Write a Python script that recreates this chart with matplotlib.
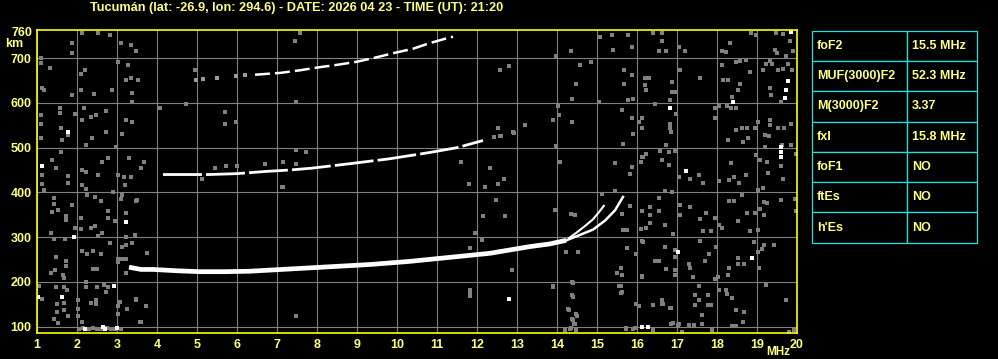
import matplotlib
matplotlib.use('Agg')
from matplotlib import pyplot as plt

title = "Tucumán (lat: -26.9, lon: 294.6) - DATE: 2026 04 23 - TIME (UT): 21:20"

# ordinary F2 trace (thick part)
o_freq = [3.3, 3.6, 3.9, 4.5, 5.07, 5.7, 6.32, 7.32, 8.32, 9.32, 10.32, 11.32, 12.32, 13.32, 13.82, 14.23]
o_height = [233, 228, 228, 225, 223, 223, 224, 229, 234, 239, 246, 255, 264, 279, 285, 293]
# cusp, two thin branches near foF2
o_tail_freq = [14.23, 14.57, 14.9, 15.2, 15.45, 15.65]
o_tail_height = [293, 305, 317, 337, 360, 390]
x_freq = [14.3, 14.5, 14.7, 14.9, 15.05, 15.17]
x_height = [298, 311, 325, 340, 356, 370]
# second hop
h2_freq = [4.15, 4.6, 5.3, 6.0, 6.73, 7.3, 7.85, 8.8, 9.8, 10.8, 11.5, 12.15]
h2_height = [440, 440, 440, 442, 447, 450, 454, 464, 475, 489, 500, 516]
# third hop
h3_freq = [6.45, 7.08, 7.58, 8.08, 8.5, 9.0, 9.45, 9.9, 10.4, 10.8, 11.15, 11.4]
h3_height = [663, 667, 673, 680, 685, 692, 701, 711, 721, 733, 742, 748]
h3_faint_freq = [4.98, 5.15, 5.5, 5.98, 6.2]
h3_faint_height = [652, 654, 655, 660, 662]

# scattered echoes (gray)
noise_f = [2.13, 2.53, 2.83, 3.09, 1.88, 1.88, 1.09, 1.32, 1.09, 2.19, 2.09, 3.34, 3.47, 3.28, 3.22, 3.34, 3.53, 3.38,
           1.13, 1.18, 1.88, 2.09, 2.43, 2.88, 3.02, 3.38, 1.58, 1.58, 1.09, 1.09, 1.95, 2.18, 2.13, 2.34, 2.48, 2.73,
           3.23, 3.38, 1.59, 1.78, 1.63, 1.09, 2.38, 2.73, 2.23, 3.13, 2.98, 1.59, 1.38, 1.48, 1.13, 2.63, 2.78, 2.13,
           2.23, 2.53, 1.78, 3.02, 3.18, 3.34, 3.30, 3.59, 3.68, 1.13, 1.78, 2.13, 2.23, 2.9, 1.18, 1.43, 1.43, 1.88,
           2.25, 2.45, 2.59, 3.13, 3.09, 3.48, 1.38, 1.53, 1.73, 1.73, 2.09, 2.78, 2.78, 2.94, 3.23, 1.34, 1.95, 2.09,
           2.34, 2.45, 2.53, 2.63, 3.23, 3.44, 1.43, 1.7, 2.82, 3.13, 3.23, 3.38, 1.48, 1.73, 1.73, 2.13, 2.26, 2.4,
           2.59, 3.02, 3.02, 3.13, 3.23, 1.45, 1.65, 1.68, 1.34, 2.4, 2.51, 3.23, 2.23, 1.05, 1.48, 1.68, 1.76, 2.23,
           2.51, 2.68, 2.78, 2.73, 1.13, 1.68, 1.51, 1.51, 1.68, 1.43, 1.53, 1.78, 2.03, 2.03, 2.03, 2.34, 2.48, 2.48,
           3.02, 3.02, 3.24, 3.47, 3.72, 3.59, 2.13, 2.05, 2.15, 2.3, 2.4, 2.5, 2.6, 2.75, 2.85, 2.95, 3.1, 3.48,
           3.73, 3.58, 3.03, 3.08, 3.2, 3.49, 3.74,
           7.58, 7.44, 4.94, 12.58, 12.8, 13.98, 14.36, 14.58, 14.86, 15.08, 15.38, 15.4, 15.78, 15.88, 15.68, 15.88,
           15.67, 14.48, 14.38, 15.05, 15.9, 15.77, 4.08, 4.73, 5.69, 5.69, 5.98, 7.48, 14.03, 14.05, 13.9, 14.38,
           15.63, 15.88, 16.05, 12.52, 12.43, 12.6, 12.93, 13.98, 15.9, 15.65, 7.48, 7.73, 6.69, 7.15, 7.48, 5.73,
           5.99, 5.44, 11.61, 12.33, 14.08, 15.44, 15.88, 15.83, 16.13, 16.1, 5.13, 7.13, 11.79, 12.19, 12.52, 12.67,
           15.13, 15.44, 12.48, 13.94, 12.15, 12.69, 14.35, 14.45, 15.63, 15.82, 16.13, 15.65, 15.75, 16.1, 11.94,
           12.13, 11.83, 14.23, 14.53, 15.75, 16.13, 15.98, 12.88, 15.59, 15.63, 15.5, 16.13, 13.9, 14.38, 15.6,
           15.63, 11.83, 11.83, 14.38, 15.98, 7.48, 14.28, 14.48, 14.38, 14.43, 14.32, 14.2, 14.48, 15.73, 15.9,
           13.89, 14.39, 14.39, 14.29, 14.5, 14.39, 14.45, 14.34, 15.56, 15.6, 15.72, 15.95, 16.04, 7.47, 11.83,
           11.83, 12.57, 12.9, 13.19, 7.14,
           16.4, 16.63, 16.63, 16.55, 16.73, 17.05, 17.19, 18.13, 18.23, 18.33, 18.86, 18.98, 19.48, 19.65, 19.44,
           19.5, 19.73, 19.9, 19.83, 16.19, 16.3, 16.19, 16.22, 16.88, 17.08, 17.58, 18.13, 18.48, 18.58, 18.73,
           18.83, 18.15, 18.28, 18.58, 18.53, 18.38, 19.15, 19.23, 19.32, 19.38, 19.52, 19.65, 19.77, 19.87, 19.32,
           19.35, 19.6, 16.83, 16.88, 16.98, 16.44, 16.98, 16.13, 16.13, 16.82, 16.82, 16.86, 16.73, 17.94, 17.94,
           18.05, 18.25, 18.35, 18.48, 18.48, 18.63, 18.75, 18.78, 18.65, 18.28, 18.94, 19.03, 19.2, 19.2, 19.3,
           19.33, 19.33, 19.53, 19.67, 19.86, 19.63, 19.86, 19.97, 16.15, 16.23, 16.58, 16.8, 16.94, 16.8, 16.62,
           17.05, 17.33, 17.55, 17.65, 18.05, 18.35, 18.43, 18.3, 18.55, 18.72, 18.98, 19.08, 19.25, 19.28, 19.61,
           19.65, 19.03, 19.15, 16.69, 16.88, 16.55, 16.33, 16.33, 16.55, 16.33, 16.22, 16.69, 16.9, 17.08, 17.08,
           17.32, 17.73, 17.58, 17.65, 17.86, 17.94, 18.05, 18.13, 18.3, 18.43, 18.52, 18.63, 18.75, 18.82, 18.94,
           19.07, 19.17, 19.25, 19.03, 19.17, 19.6, 19.94, 19.97, 16.15, 16.69, 16.94, 16.94, 16.44, 16.55, 16.73,
           16.94, 16.94, 16.13, 17.3, 17.33, 17.4, 17.58, 17.8, 17.69, 17.98, 17.94, 18.02, 18.3, 18.28, 18.53,
           18.53, 18.68, 18.92, 19.03, 19.13, 19.18, 19.43, 19.04, 19.23, 16.4, 16.63, 16.63, 16.83, 17.55, 17.44,
           17.44, 17.55, 17.78, 17.78, 17.86, 17.63, 18.05, 18.23, 18.24, 18.38, 18.48, 18.68, 19.73, 16.85, 17.03,
           17.3, 17.42, 17.63, 17.88, 18.38, 18.48, 18.65, 19.92, 19.8, 16.4, 17.13, 16.65, 16.85, 16.9, 17.04]
noise_h = [756, 756, 752, 734, 734, 711, 701, 679, 689, 673, 664, 730, 716, 684, 651, 655, 651, 622,
           634, 629, 618, 629, 619, 629, 691, 601, 588, 577, 572, 554, 575, 588, 562, 569, 572, 582,
           562, 557, 543, 528, 517, 522, 521, 534, 507, 530, 502, 490, 472, 455, 440, 469, 476, 450,
           445, 439, 437, 439, 435, 435, 476, 454, 469, 418, 420, 416, 407, 400, 405, 387, 375, 373,
           394, 390, 381, 394, 385, 381, 357, 360, 348, 338, 343, 358, 344, 336, 353, 309, 321, 318,
           321, 325, 303, 309, 301, 304, 297, 297, 286, 278, 282, 286, 256, 246, 236, 269, 263, 269,
           263, 245, 252, 251, 251, 226, 216, 209, 219, 228, 228, 219, 201, 191, 189, 189, 181, 189,
           189, 194, 189, 178, 163, 154, 151, 133, 137, 118, 109, 124, 159, 140, 125, 154, 159, 151,
           146, 129, 139, 159, 146, 110, 110, 96, 97, 95, 98, 95, 96, 97, 95, 96, 95, 162,
           147, 111, 147, 156, 417, 382, 265,
           757, 739, 674, 674, 683, 704, 716, 684, 691, 748, 752, 719, 752, 726, 674, 663,
           642, 642, 609, 602, 609, 607, 588, 597, 579, 552, 557, 602, 594, 572, 562, 557,
           585, 566, 557, 545, 523, 525, 532, 503, 530, 508, 495, 490, 463, 468, 463, 458,
           458, 454, 468, 454, 468, 465, 456, 441, 480, 468, 431, 413, 418, 413, 418, 431,
           396, 404, 382, 360, 347, 347, 351, 350, 351, 370, 359, 316, 316, 318, 310,
           293, 276, 266, 266, 276, 292, 262, 227, 231, 216, 221, 214, 190, 199, 190,
           177, 181, 170, 170, 150, 125, 140, 128, 118, 107, 96, 92, 92, 96, 96,
           188, 198, 167, 137, 124, 115, 105, 98, 191, 176, 98, 97, 146, 123, 179,
           168, 525, 535, 551, 413,
           756, 756, 739, 716, 716, 724, 716, 715, 713, 734, 756, 752, 756, 754, 719,
           711, 704, 715, 739, 655, 655, 639, 629, 646, 674, 655, 684, 691, 693, 696,
           670, 651, 651, 642, 629, 614, 674, 688, 693, 688, 674, 676, 688, 673, 633,
           618, 603, 607, 625, 624, 597, 575, 566, 545, 552, 543, 534, 507, 588, 567,
           594, 594, 588, 588, 540, 543, 543, 521, 512, 517, 543, 557, 528, 502, 526,
           562, 551, 545, 543, 552, 506, 506, 485, 480, 485, 493, 490, 493, 461, 472,
           435, 431, 440, 420, 425, 465, 435, 428, 420, 440, 484, 472, 469, 443, 460,
           431, 405, 410, 403, 401, 387, 368, 349, 358, 331, 321, 327, 308, 372, 349,
           368, 353, 340, 313, 313, 343, 328, 321, 381, 381, 336, 394, 353, 313, 353,
           364, 379, 376, 316, 349, 383, 385, 358, 290, 278, 271, 256, 246, 246, 228,
           226, 216, 211, 241, 232, 211, 291, 263, 246, 278, 206, 211, 232, 215, 254,
           241, 241, 290, 268, 273, 283, 282, 231, 194, 149, 159, 151, 142, 191, 170,
           149, 159, 170, 148, 149, 127, 181, 181, 174, 164, 137, 133, 159, 107, 103,
           103, 103, 107, 92, 102, 102, 111, 92, 88, 92, 88, 151, 142, 108, 105]

# brighter isolated echoes
bright_f = [1.13, 1.78, 3.23, 1.93, 2.93, 1.03, 1.63, 2.2, 2.7, 2.65, 3.0, 12.8, 16.28,
            19.86, 18.4, 16.83, 19.78, 19.73, 19.69, 17.23, 19.6, 19.6, 19.6, 17.03, 18.87, 16.12]
bright_h = [458, 536, 333, 300, 191, 166, 166, 96, 96, 100, 98, 162, 100,
            758, 603, 588, 648, 629, 612, 448, 502, 491, 480, 268, 254, 99]

param_names = ["foF2", "MUF(3000)F2", "M(3000)F2", "fxI", "foF1", "ftEs", "h'Es"]
param_values = ["15.5 MHz", "52.3 MHz", "3.37", "15.8 MHz", "NO", "NO", "NO"]

freq_ticks = list(range(1, 21))
height_ticks = [100, 200, 300, 400, 500, 600, 700]

txt = '#FFFF80'
plt.rcParams['font.family'] = ['Liberation Sans', 'DejaVu Sans']
plt.rcParams['font.weight'] = 'bold'

fig = plt.figure(figsize=(9.98, 3.59), dpi=100, facecolor='black')
ax = fig.add_axes([37 / 998, 1 - 333 / 359, 760 / 998, 303.5 / 359])
ax.set_facecolor('black')
ax.set_xlim(1, 20)
ax.set_ylim(86, 764)

ax.set_xticks(freq_ticks)
ax.set_xticklabels([str(f) for f in freq_ticks])
ax.set_yticks(height_ticks)
ax.set_yticks([760], minor=True)
ax.set_yticklabels(['760'], minor=True)
ax.tick_params(axis='both', which='both', length=0, colors=txt, labelsize=9)
ax.tick_params(axis='x', pad=4.5)
ax.tick_params(axis='y', pad=4)
ax.set_axisbelow(True)
ax.grid(True, which='major', color='#808080', linewidth=0.8)
for s in ax.spines.values():
    s.set_color('#FFFF00')
    s.set_linewidth(1.2)

# the "20" label sits a bit to the right of its tick
ax.get_xticklabels()[-1].set_x(20.05)

ax.scatter(noise_f, noise_h, s=5, marker='s', c='#808080', linewidths=0)
ax.scatter(bright_f, bright_h, s=5, marker='s', c='white', linewidths=0)
ax.scatter(h3_faint_freq, h3_faint_height, s=5, marker='s', c='#9a9a9a', linewidths=0)

ax.plot(o_freq, o_height, color='white', lw=3.4, solid_capstyle='butt')
ax.plot(o_tail_freq, o_tail_height, color='white', lw=1.8)
ax.plot(x_freq, x_height, color='white', lw=1.5)
ax.plot(h2_freq, h2_height, color='white', lw=2.0, dashes=[14, 1.5])
ax.plot(h3_freq, h3_height, color='white', lw=1.8, dashes=[6, 2])

fig.text(90 / 998, 1 - 8 / 359, title, color=txt, fontsize=9.15, va='center', ha='left')
fig.text(5 / 998, 1 - 44 / 359, 'km', color=txt, fontsize=9, va='center', ha='left')
fig.text(766 / 998, 1 - 352 / 359, 'MHz', color=txt, fontsize=8.5, va='center', ha='left')

tax = fig.add_axes([812 / 998, 1 - 242.7 / 359, 165 / 998, 212 / 359])
tax.axis('off')
tab = tax.table(cellText=[[n, v] for n, v in zip(param_names, param_values)],
                cellLoc='left', colWidths=[95 / 165, 70 / 165], bbox=[0, 0, 1, 1])
tab.auto_set_font_size(False)
tab.set_fontsize(9)
for (r, c), cell in tab.get_celld().items():
    cell.set_facecolor('black')
    cell.set_edgecolor('#20E0E0')
    cell.set_linewidth(0.9)
    cell.get_text().set_color(txt)
    cell.get_text().set_fontweight('bold')
    cell.PAD = 0.05 if c == 0 else 0.07

fig.savefig('out.png', dpi=100, facecolor='black')
